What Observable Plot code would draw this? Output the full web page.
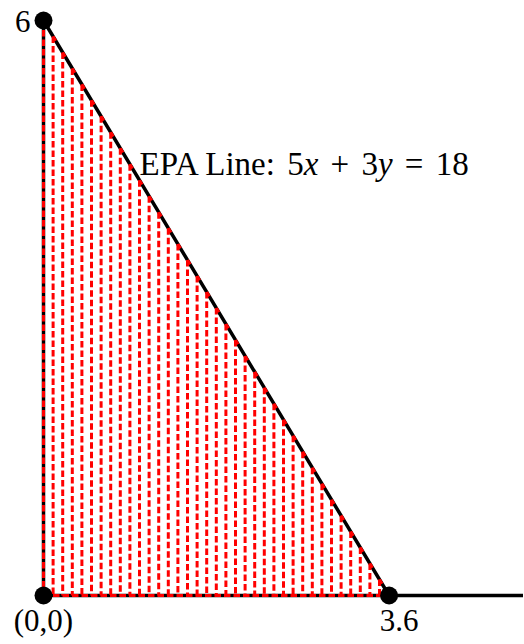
<!DOCTYPE html>
<html>
<head>
<meta charset="utf-8">
<script src="https://cdn.jsdelivr.net/npm/d3@7"></script>
<script src="https://cdn.jsdelivr.net/npm/@observablehq/plot@0.6"></script>
<style>
  html, body { margin: 0; padding: 0; background: #fff; }
  #chart svg { display: block; }
</style>
</head>
<body>
<div id="chart"></div>
<script>
// EPA constraint 5x + 3y = 18
const coefX = 5;
const coefY = 3;
const rhs = 18;

// x positions of the red dashed strips under the line
const stripX = [0, 0.1, 0.2, 0.3, 0.4, 0.5, 0.6, 0.7, 0.8, 0.9, 1.0, 1.1, 1.2,
  1.3, 1.4, 1.5, 1.6, 1.7, 1.8, 1.9, 2.0, 2.1, 2.2, 2.3, 2.4, 2.5, 2.6, 2.7,
  2.8, 2.9, 3.0, 3.1, 3.2, 3.3, 3.4, 3.5, 3.6];

// corner points of the feasible region and their labels
const cornerX = [0, 3.6, 0];
const cornerY = [0, 0, 6];
const cornerLabels = ["(0,0)", "3.6", "6"];

const xDomain = [0, 5];
const yDomain = [0, 6];

const lineY = (x) => (rhs - coefX * x) / coefY;

const strips = stripX.map((x) => ({x, top: lineY(x)}));
const stripTops = strips.slice(0, -1).map((d, i) => ({x1: d.x, y1: d.top, x2: strips[i + 1].x, y2: strips[i + 1].top}));
const corners = cornerX.map((x, i) => ({x, y: cornerY[i], label: cornerLabels[i]}));
const epaLine = [{x: 0, y: lineY(0)}, {x: rhs / coefX, y: lineY(rhs / coefX)}];

const font = "Liberation Serif, Times New Roman, serif";
const dash = "6.5,3";
const red = "#ff0000";

const chart = Plot.plot({
  width: 524,
  height: 644,
  marginLeft: 43,
  marginRight: 1,
  marginTop: 20,
  marginBottom: 49,
  x: {domain: xDomain, axis: null},
  y: {domain: yDomain, axis: null},
  style: {fontFamily: font, background: "#fff", overflow: "visible"},
  marks: [
    // black axes and constraint line
    Plot.ruleY([0], {x1: xDomain[0], x2: xDomain[1], stroke: "black", strokeWidth: 3.5}),
    Plot.ruleX([0], {y1: 0, y2: yDomain[1], stroke: "black", strokeWidth: 3.5}),
    Plot.line(epaLine, {x: "x", y: "y", stroke: "black", strokeWidth: 3.5}),
    // red dashed strips: verticals from the line down to the x-axis, their tops and the base
    Plot.link(strips, {x1: "x", y1: "top", x2: "x", y2: 0, stroke: red, strokeWidth: 3, strokeDasharray: dash}),
    Plot.link(stripTops, {x1: "x1", y1: "y1", x2: "x2", y2: "y2", stroke: red, strokeWidth: 3, strokeDasharray: "5,40"}),
    Plot.link([{a: 0, b: rhs / coefX}], {x1: "a", y1: 0, x2: "b", y2: 0, stroke: red, strokeWidth: 3, strokeDasharray: dash}),
    // corner dots
    Plot.dot(corners, {x: "x", y: "y", r: 9, fill: "black", stroke: null}),
    // corner labels
    Plot.text(corners.filter(d => d.label === "6"), {x: "x", y: "y", text: "label", textAnchor: "end", dx: -13, dy: 2, fontSize: 31, fill: "black"}),
    Plot.text(corners.filter(d => d.label === "(0,0)"), {x: "x", y: "y", text: "label", dy: 26, fontSize: 31, fill: "black"}),
    Plot.text(corners.filter(d => d.label === "3.6"), {x: "x", y: "y", text: "label", dx: 10, dy: 26, fontSize: 31, fill: "black"}),
    // equation label
    Plot.text([{x: 1, y: 4.5}], {x: "x", y: "y", text: () => "EPA Line: 5x + 3y = 18", textAnchor: "start", fontSize: 33, fill: "black", className: "epa-label"})
  ]
});

document.getElementById("chart").appendChild(chart);

// set the equation's variables in italic, with math-style spacing
d3.select(chart).selectAll(".epa-label text").each(function () {
  const t = d3.select(this);
  t.text(null);
  const parts = [["EPA Line:", false], [" 5", false], ["x", true], [" + 3", false], ["y", true], [" = 18", false]];
  parts.forEach(([s, it], i) => {
    const span = t.append("tspan").text(s);
    if (it) span.attr("font-style", "italic");
    if (i > 0) span.attr("word-spacing", "4px");
  });
});
</script>
</body>
</html>
